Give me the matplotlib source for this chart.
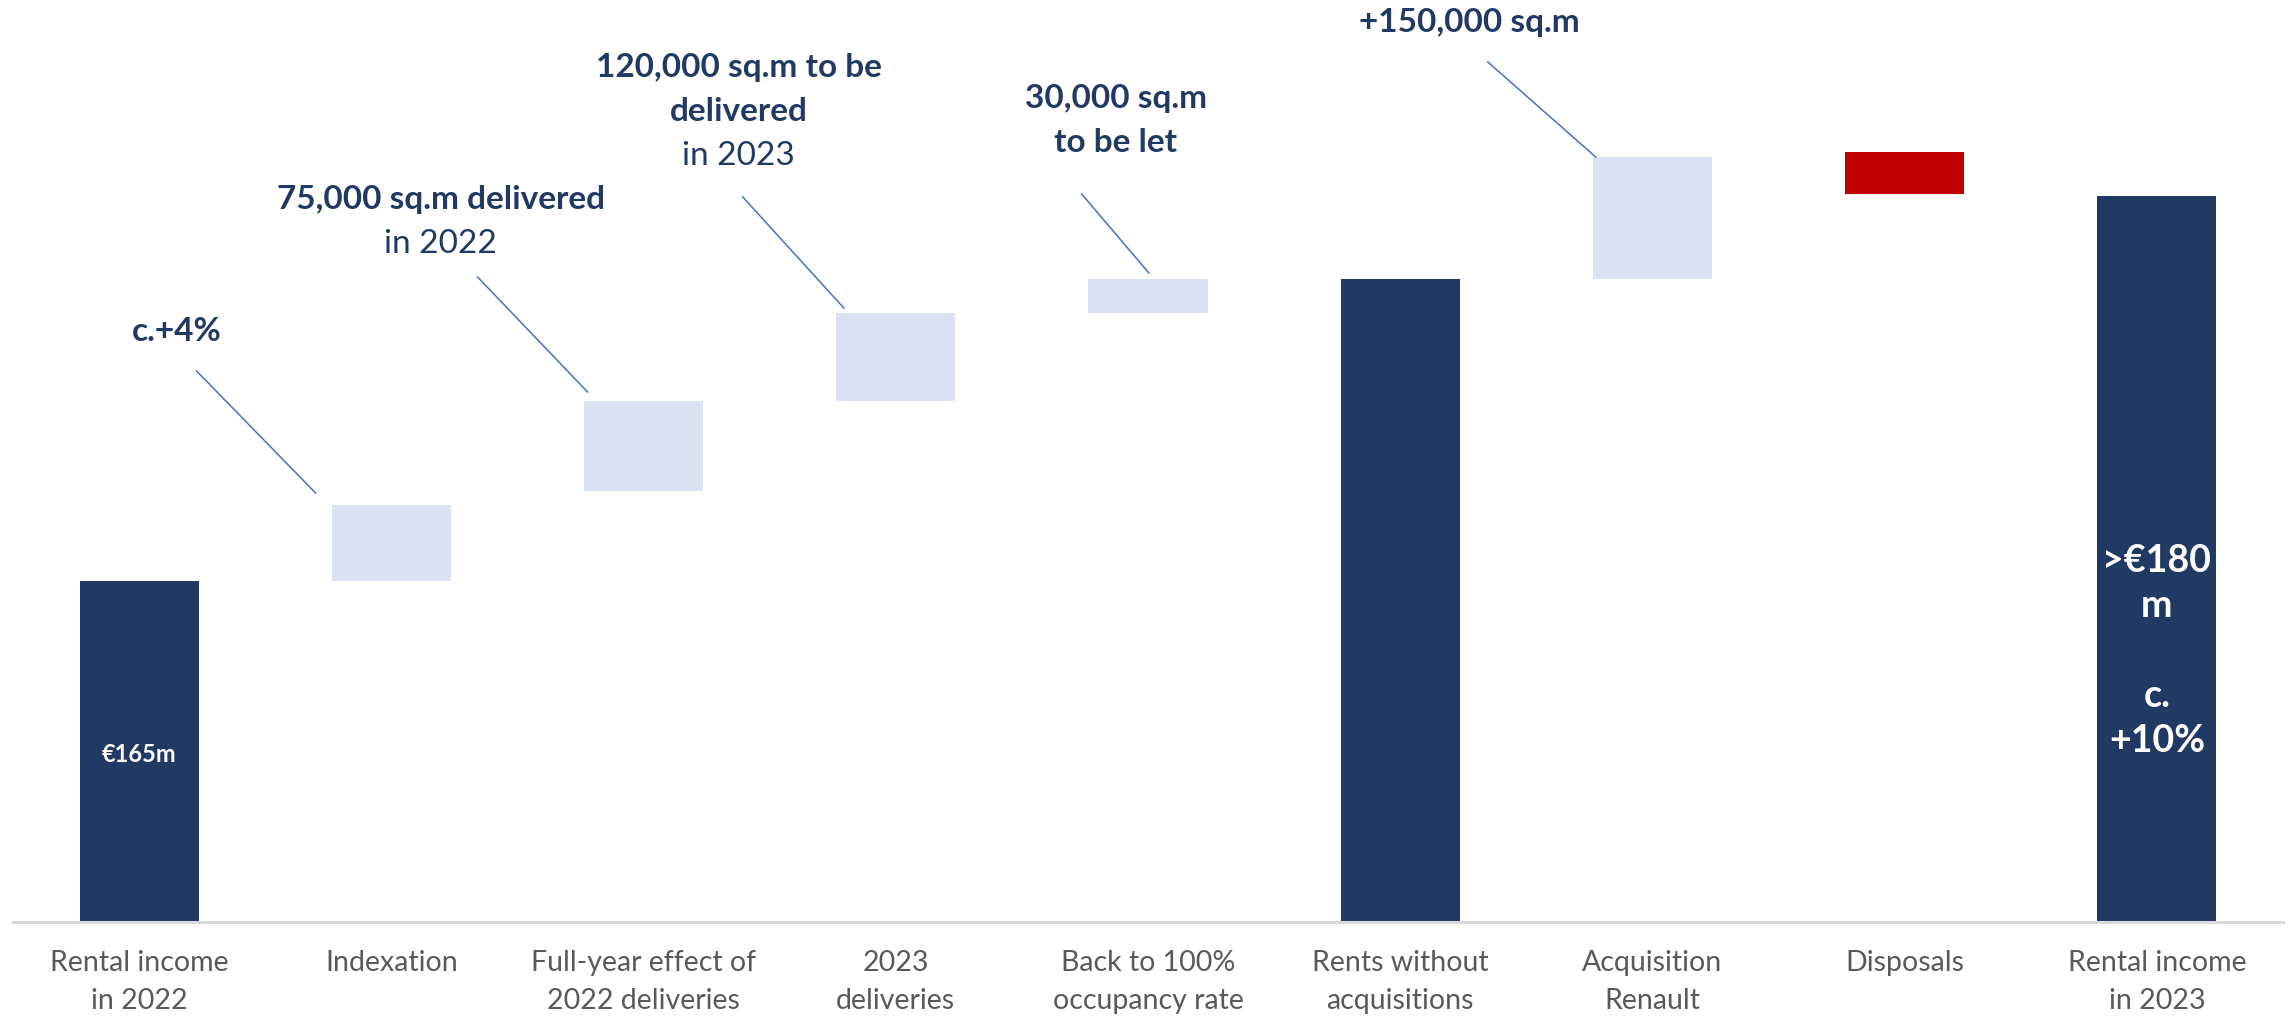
import matplotlib
matplotlib.use("Agg")
import matplotlib.pyplot as plt

# ---------------- data ----------------
categories = ["Rental income\nin 2022", "Indexation", "Full-year effect of\n2022 deliveries",
              "2023\ndeliveries", "Back to 100%\noccupancy rate", "Rents without\nacquisitions",
              "Acquisition\nRenault", "Disposals", "Rental income\nin 2023"]
axis_base = 151.0   # €m at the (broken) axis baseline
bar_bottoms = [151.0, 165.0, 168.7, 172.4, 176.0, 151.0, 177.4, 180.9, 151.0]
bar_tops    = [165.0, 168.1, 172.4, 176.0, 177.4, 177.4, 182.4, 182.6, 180.8]
bar_kinds   = ["total", "up", "up", "up", "up", "total", "up", "down", "total"]
inside_labels = {0: "€165m", 8: ">€180\nm\n\nc.\n+10%"}
callouts = [  # (bold lines, regular lines, text x, text y, line start, line end)
    (["c.+4%"], [], 0.149, 175.26, (0.228, 173.62), (0.700, 168.61)),
    (["75,000 sq.m delivered"], ["in 2022"], 1.195, 180.68, (1.342, 177.48), (1.778, 172.76)),
    (["120,000 sq.m to be", "delivered"], ["in 2023"], 2.377, 186.10, (2.393, 180.77), (2.794, 176.21)),
    (["30,000 sq.m", "to be let"], [], 3.872, 184.83, (3.737, 180.89), (4.003, 177.65)),
    (["+150,000 sq.m"], [], 5.275, 187.91, (5.347, 186.31), (5.775, 182.41)),
]

# ---------------- style ----------------
NAVY = "#213A64"
LIGHT = "#DAE3F3"
RED = "#C00000"
GREY = "#595959"
LINE = "#4472C4"
FONT = "Lato"
colors = {"total": NAVY, "up": LIGHT, "down": RED}

fig = plt.figure(figsize=(22.9, 10.23), dpi=100)
ax = fig.add_axes([13 / 2290, 101 / 1023, 2270 / 2290, 922 / 1023])
ax.set_xlim(-0.5, 8.5)
ax.set_ylim(axis_base, axis_base + 922 * 0.041056)

x = list(range(len(categories)))
heights = [t - b for t, b in zip(bar_tops, bar_bottoms)]
ax.bar(x, heights, bottom=bar_bottoms, width=0.472,
       color=[colors[k] for k in bar_kinds], zorder=2)

for s in ["top", "right", "left"]:
    ax.spines[s].set_visible(False)
ax.spines["bottom"].set_color("#D9D9D9")
ax.spines["bottom"].set_linewidth(2.2)
ax.set_yticks([])
ax.set_xticks(x)
ax.set_xticklabels(categories, fontsize=20.5, color=GREY, fontfamily=FONT,
                   linespacing=1.6)
ax.tick_params(axis="x", length=0, pad=20)

# labels inside total bars
ax.text(0, 157.86, inside_labels[0], ha="center", va="center", color="white",
        fontsize=17, fontweight="bold", fontfamily=FONT)
ax.text(8, 162.13, inside_labels[8], ha="center", va="center", color="white",
        fontsize=27, fontweight="bold", fontfamily=FONT, linespacing=1.4)

# callouts
line_step = 44.5 * 0.041056
for bold, reg, tx, ty, p0, p1 in callouts:
    y = ty
    for ln in bold:
        ax.text(tx, y, ln, ha="center", va="center", color=NAVY, fontsize=24,
                fontweight="bold", fontfamily=FONT)
        y -= line_step
    for ln in reg:
        ax.text(tx, y, ln, ha="center", va="center", color=NAVY, fontsize=24,
                fontfamily=FONT)
        y -= line_step
    ax.plot([p0[0], p1[0]], [p0[1], p1[1]], color=LINE, lw=1.1, zorder=3)

fig.savefig("out.png", dpi=100, facecolor="white")
